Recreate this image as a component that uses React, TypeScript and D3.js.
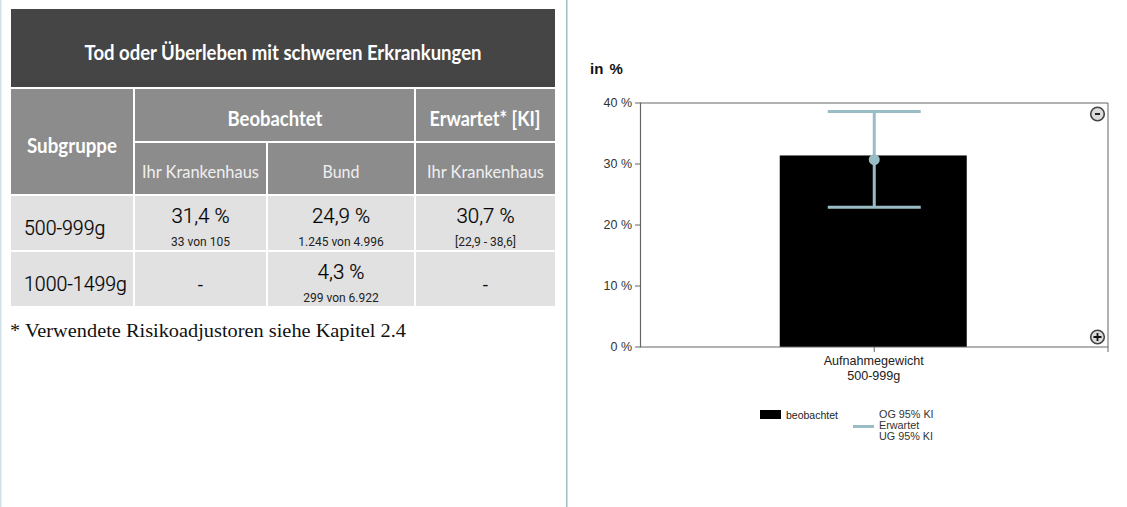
import React from "react";
import * as d3 from "d3";

const chartCategories = ["Aufnahmegewicht|500-999g"];
const observed = [31.4];
const expected = [30.7];
const upperCI = [38.6];
const lowerCI = [22.9];
const yTicks = [0, 10, 20, 30, 40];
const legendObserved = "beobachtet";
const legendExpected = ["OG 95% KI", "Erwartet", "UG 95% KI"];

const tableTitle = "Tod oder Überleben mit schweren Erkrankungen";
const subgroups = ["500-999g", "1000-1499g"];
const hospitalMain = ["31,4 %", "-"];
const hospitalSub = ["33 von 105", ""];
const nationalMain = ["24,9 %", "4,3 %"];
const nationalSub = ["1.245 von 4.996", "299 von 6.922"];
const expectedMain = ["30,7 %", "-"];
const expectedSub = ["[22,9 - 38,6]", ""];
const footnote = "* Verwendete Risikoadjustoren siehe Kapitel 2.4";

const HEAD = "Lato, 'Noto Sans', sans-serif";
const BODY = "Roboto, sans-serif";
const CHART = "'Liberation Sans', Arial, sans-serif";
const TEAL = "#9abcc5";
const AXIS = "#666666";

function T(p: any) {
  const { w, children, ...r } = p;
  return (
    <text textAnchor="middle" {...r} {...(w ? { textLength: w, lengthAdjust: "spacingAndGlyphs" } : {})}>
      {children}
    </text>
  );
}

export default function App() {
  const y = d3.scaleLinear().domain([0, 40]).range([347, 103]);
  const x = d3.scaleBand().domain(chartCategories).range([640.5, 1108]);
  const cx = (x(chartCategories[0]) as number) + x.bandwidth() / 2;
  const barW = 187;
  const capW = 93;
  const cats = chartCategories[0].split("|");
  const rowY = [196, 252];
  const rowH = [54, 54];
  const cols = [
    { x: 11, w: 122 },
    { x: 135, w: 131 },
    { x: 268, w: 146 },
    { x: 416, w: 139 },
  ];
  const colC = cols.map((c) => c.x + c.w / 2);
  const mains = [hospitalMain, nationalMain, expectedMain];
  const subs = [hospitalSub, nationalSub, expectedSub];

  return (
    <svg width={1127} height={507} style={{ position: "absolute", left: 0, top: 0, background: "#fff" }}>
      <rect x={0} y={0} width={1.5} height={507} fill="#cfe0e8" />
      <rect x={566} y={0} width={1.5} height={507} fill="#9fbfc4" />

      <rect x={11} y={9} width={544} height={78} fill="#454545" />
      <T x={283} y={60} fontFamily={HEAD} fontSize={21} fontWeight={700} fill="#fff" w={397}>{tableTitle}</T>

      <rect x={11} y={89} width={122} height={105} fill="#8c8c8c" />
      <rect x={135} y={89} width={279} height={52} fill="#8c8c8c" />
      <rect x={416} y={89} width={139} height={52} fill="#8c8c8c" />
      {cols.slice(1).map((c, i) => (
        <rect key={i} x={c.x} y={143} width={c.w} height={51} fill="#8c8c8c" />
      ))}
      <T x={72} y={153} fontFamily={HEAD} fontSize={21} fontWeight={700} fill="#fff" w={90}>Subgruppe</T>
      <T x={275} y={126} fontFamily={HEAD} fontSize={20} fontWeight={700} fill="#fff" w={95}>Beobachtet</T>
      <T x={485} y={126} fontFamily={HEAD} fontSize={20} fontWeight={700} fill="#fff" w={111}>Erwartet* [KI]</T>
      <T x={200.5} y={178} fontFamily={HEAD} fontSize={17} fill="#f0f0f0" w={117}>Ihr Krankenhaus</T>
      <T x={341} y={178} fontFamily={HEAD} fontSize={17} fill="#f0f0f0" w={37}>Bund</T>
      <T x={485.5} y={178} fontFamily={HEAD} fontSize={17} fill="#f0f0f0" w={117}>Ihr Krankenhaus</T>

      {subgroups.map((s, i) => (
        <g key={s}>
          {cols.map((c, k) => (
            <rect key={k} x={c.x} y={rowY[i]} width={c.w} height={rowH[i]} fill="#e1e1e1" />
          ))}
          <text x={24} y={rowY[i] + 39} fontFamily={BODY} fontSize={19.5} fontWeight={300} fill="#000" stroke="#000" strokeWidth={0.2}>{s}</text>
          {mains.map((m, k) =>
            subs[k][i] ? (
              <g key={k}>
                <T x={colC[k + 1]} y={rowY[i] + 27} fontFamily={BODY} fontSize={20.5} fontWeight={300} fill="#000" stroke="#000" strokeWidth={0.2}>{m[i]}</T>
                <T x={colC[k + 1]} y={rowY[i] + 50} fontFamily={BODY} fontSize={12} fill="#222">{subs[k][i]}</T>
              </g>
            ) : (
              <T key={k} x={colC[k + 1]} y={rowY[i] + 39} fontFamily={BODY} fontSize={19} fill="#111">{m[i]}</T>
            )
          )}
        </g>
      ))}
      <text x={10} y={337} fontFamily="'Liberation Serif', serif" fontSize={18.5} fill="#111" textLength={396} lengthAdjust="spacingAndGlyphs">{footnote}</text>

      <text x={590} y={74} fontFamily={CHART} fontSize={15} fontWeight={700} fill="#111" wordSpacing={2}>in %</text>

      <rect x={cx - 1 - barW / 2} y={y(observed[0])} width={barW} height={y(0) - y(observed[0])} fill="#000" />

      <path d={`M640.5,${y(40)}H1108V${y(0) + 5}`} fill="none" stroke={AXIS} strokeWidth={1} />
      <path d={`M640.5,${y(40) - 0.5}V${y(0)}H1108`} fill="none" stroke={AXIS} strokeWidth={1.2} />
      <line x1={cx} x2={cx} y1={y(0)} y2={y(0) + 5} stroke={AXIS} />
      {yTicks.map((t) => (
        <g key={t}>
          <line x1={635} x2={640.5} y1={y(t)} y2={y(t)} stroke={AXIS} />
          <text x={632} y={y(t) + 4} textAnchor="end" fontFamily={CHART} fontSize={12.5} fill="#333">{`${t} %`}</text>
        </g>
      ))}

      <line x1={cx} x2={cx} y1={y(upperCI[0])} y2={y(lowerCI[0])} stroke={TEAL} strokeWidth={3} />
      <line x1={cx - capW / 2} x2={cx + capW / 2} y1={y(upperCI[0])} y2={y(upperCI[0])} stroke={TEAL} strokeWidth={3} />
      <line x1={cx - capW / 2} x2={cx + capW / 2} y1={y(lowerCI[0])} y2={y(lowerCI[0])} stroke={TEAL} strokeWidth={3} />
      <circle cx={cx} cy={y(expected[0])} r={5.5} fill={TEAL} />

      <T x={cx - 0.5} y={365} fontFamily={CHART} fontSize={12.6} fill="#222">{cats[0]}</T>
      <T x={cx - 0.5} y={380} fontFamily={CHART} fontSize={12.6} fill="#222">{cats[1]}</T>

      {[{ cy: 114, s: "-" }, { cy: 337, s: "+" }].map((b) => (
        <g key={b.s}>
          <circle cx={1097.5} cy={b.cy} r={6.8} fill="#dcdcdc" stroke="#444" strokeWidth={1.6} />
          <path d={b.s === "-" ? `M1095,${b.cy}H1100` : `M1093.5,${b.cy}H1101.5M1097.5,${b.cy - 4}V${b.cy + 4}`} stroke="#111" strokeWidth={1.8} />
        </g>
      ))}

      <rect x={760} y={410} width={21} height={9} fill="#000" />
      <text x={786} y={419} fontFamily={CHART} fontSize={10.5} fill="#222">{legendObserved}</text>
      <line x1={853} x2={874} y1={426.5} y2={426.5} stroke={TEAL} strokeWidth={3} />
      {legendExpected.map((l, i) => (
        <text key={l} x={879} y={418 + i * 11} fontFamily={CHART} fontSize={10.8} fill="#333">{l}</text>
      ))}
    </svg>
  );
}
